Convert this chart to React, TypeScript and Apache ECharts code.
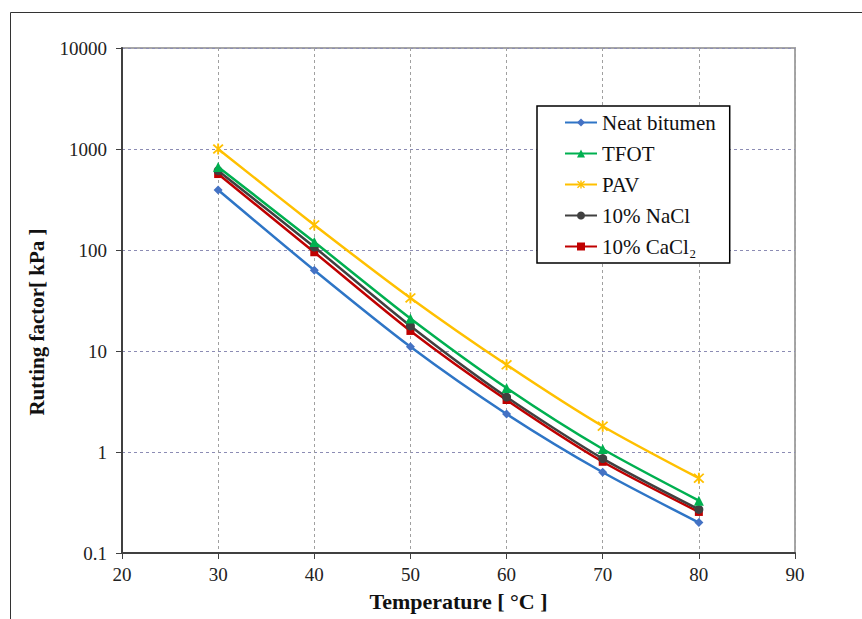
import React, { useEffect, useRef } from "react";
import * as echarts from "echarts";

const temperatures = [30, 40, 50, 60, 70, 80];
const seriesNames = ["Neat bitumen", "TFOT", "PAV", "10% NaCl", "10% CaCl₂"];
const neatBitumen = [393, 63, 11, 2.38, 0.63, 0.2];
const tfot = [664, 120, 21, 4.3, 1.07, 0.33];
const pav = [1000, 177, 33.5, 7.3, 1.8, 0.55];
const nacl = [610, 107, 17.7, 3.5, 0.86, 0.27];
const cacl2 = [565, 95, 15.8, 3.27, 0.8, 0.255];
const yTickLabels = ["0.1", "1", "10", "100", "1000", "10000"];

const lineColors = ["#2E75C6", "#00B050", "#FFC000", "#404040", "#C00000"];
const markerColors = ["#4472C4", "#00B050", "#FFC000", "#404040", "#C00000"];
const starPath =
  "path://M-0.8,-5L0.8,-5L0.8,5L-0.8,5Z M-4.6,-3.5L-3.5,-4.6L4.6,3.5L3.5,4.6Z M3.5,-4.6L4.6,-3.5L-3.5,4.6L-4.6,3.5Z";
const symbols = ["diamond", "triangle", starPath, "circle", "rect"];
const symbolSizes = [9, 10, 11, 9, 8];

export default function App() {
  const ref = useRef<HTMLDivElement>(null);
  useEffect(() => {
    document.body.style.margin = "0";
    if (!ref.current) return;
    const chart = echarts.init(ref.current, undefined, { renderer: "svg" });
    const dataSets = [neatBitumen, tfot, pav, nacl, cacl2];
    const font = "Liberation Serif";
    chart.setOption({
      animation: false,
      backgroundColor: "#ffffff",
      textStyle: { fontFamily: font },
      graphic: [
        {
          type: "rect",
          shape: { x: 10.5, y: 12.5, width: 900, height: 700 },
          style: { fill: "none", stroke: "#333", lineWidth: 1 },
          silent: true,
        },
        {
          type: "text",
          x: 37,
          y: 322,
          rotation: Math.PI / 2,
          style: {
            text: "Rutting factor[ kPa ]",
            font: `bold 21px "Liberation Serif"`,
            fill: "#111",
            textAlign: "center",
            textVerticalAlign: "middle",
          },
        },
      ],
      grid: {
        left: 122,
        right: 67,
        top: 48,
        bottom: 66,
        show: true,
        borderColor: "#a6a6a6",
        borderWidth: 2,
        outerBoundsMode: "none",
        containLabel: false,
      },
      legend: {
        orient: "vertical",
        left: 537,
        top: 106,
        padding: [6, 14, 6, 27],
        itemGap: 10,
        itemWidth: 32,
        itemHeight: 10,
        borderColor: "#000",
        borderWidth: 1.5,
        backgroundColor: "#fff",
        data: seriesNames,
        textStyle: { fontFamily: font, fontSize: 21, color: "#111" },
      },
      xAxis: {
        type: "value",
        min: 20,
        max: 90,
        interval: 10,
        name: "Temperature [ °C ]",
        nameLocation: "middle",
        nameGap: 37,
        nameTextStyle: { fontFamily: font, fontSize: 22, fontWeight: "bold", color: "#111" },
        axisLine: { onZero: false, lineStyle: { color: "#404040", width: 2 } },
        axisTick: { show: true, length: 6, lineStyle: { color: "#404040" } },
        axisLabel: { fontFamily: font, fontSize: 19, color: "#222", margin: 12 },
        splitLine: { show: true, lineStyle: { type: [3, 3], color: "#a0a0a0", width: 1 } },
      },
      yAxis: {
        type: "log",
        logBase: 10,
        min: 0.1,
        max: 10000,
        axisLine: { show: true, lineStyle: { color: "#404040", width: 2 } },
        axisTick: { show: true, length: 6, lineStyle: { color: "#404040" } },
        axisLabel: {
          fontFamily: font,
          fontSize: 19,
          color: "#222",
          margin: 15,
          formatter: (v: number) => {
            const idx = Math.round(Math.log10(v)) + 1;
            return yTickLabels[idx] ?? String(v);
          },
        },
        splitLine: { show: true, lineStyle: { type: [3, 3], color: "#8c8cb4", width: 1 } },
        minorTick: { show: false },
      },
      series: dataSets.map((d, i) => ({
        name: seriesNames[i],
        type: "line",
        smooth: 0.25,
        data: temperatures.map((t, j) => [t, d[j]]),
        symbol: symbols[i],
        symbolSize: symbolSizes[i],
        showAllSymbol: true,
        lineStyle: { color: lineColors[i], width: 2.5 },
        itemStyle: { color: markerColors[i], borderWidth: 0 },
        z: 10 - i,
      })),
    });
    return () => chart.dispose();
  }, []);
  return <div ref={ref} style={{ width: 862, height: 619 }} />;
}
